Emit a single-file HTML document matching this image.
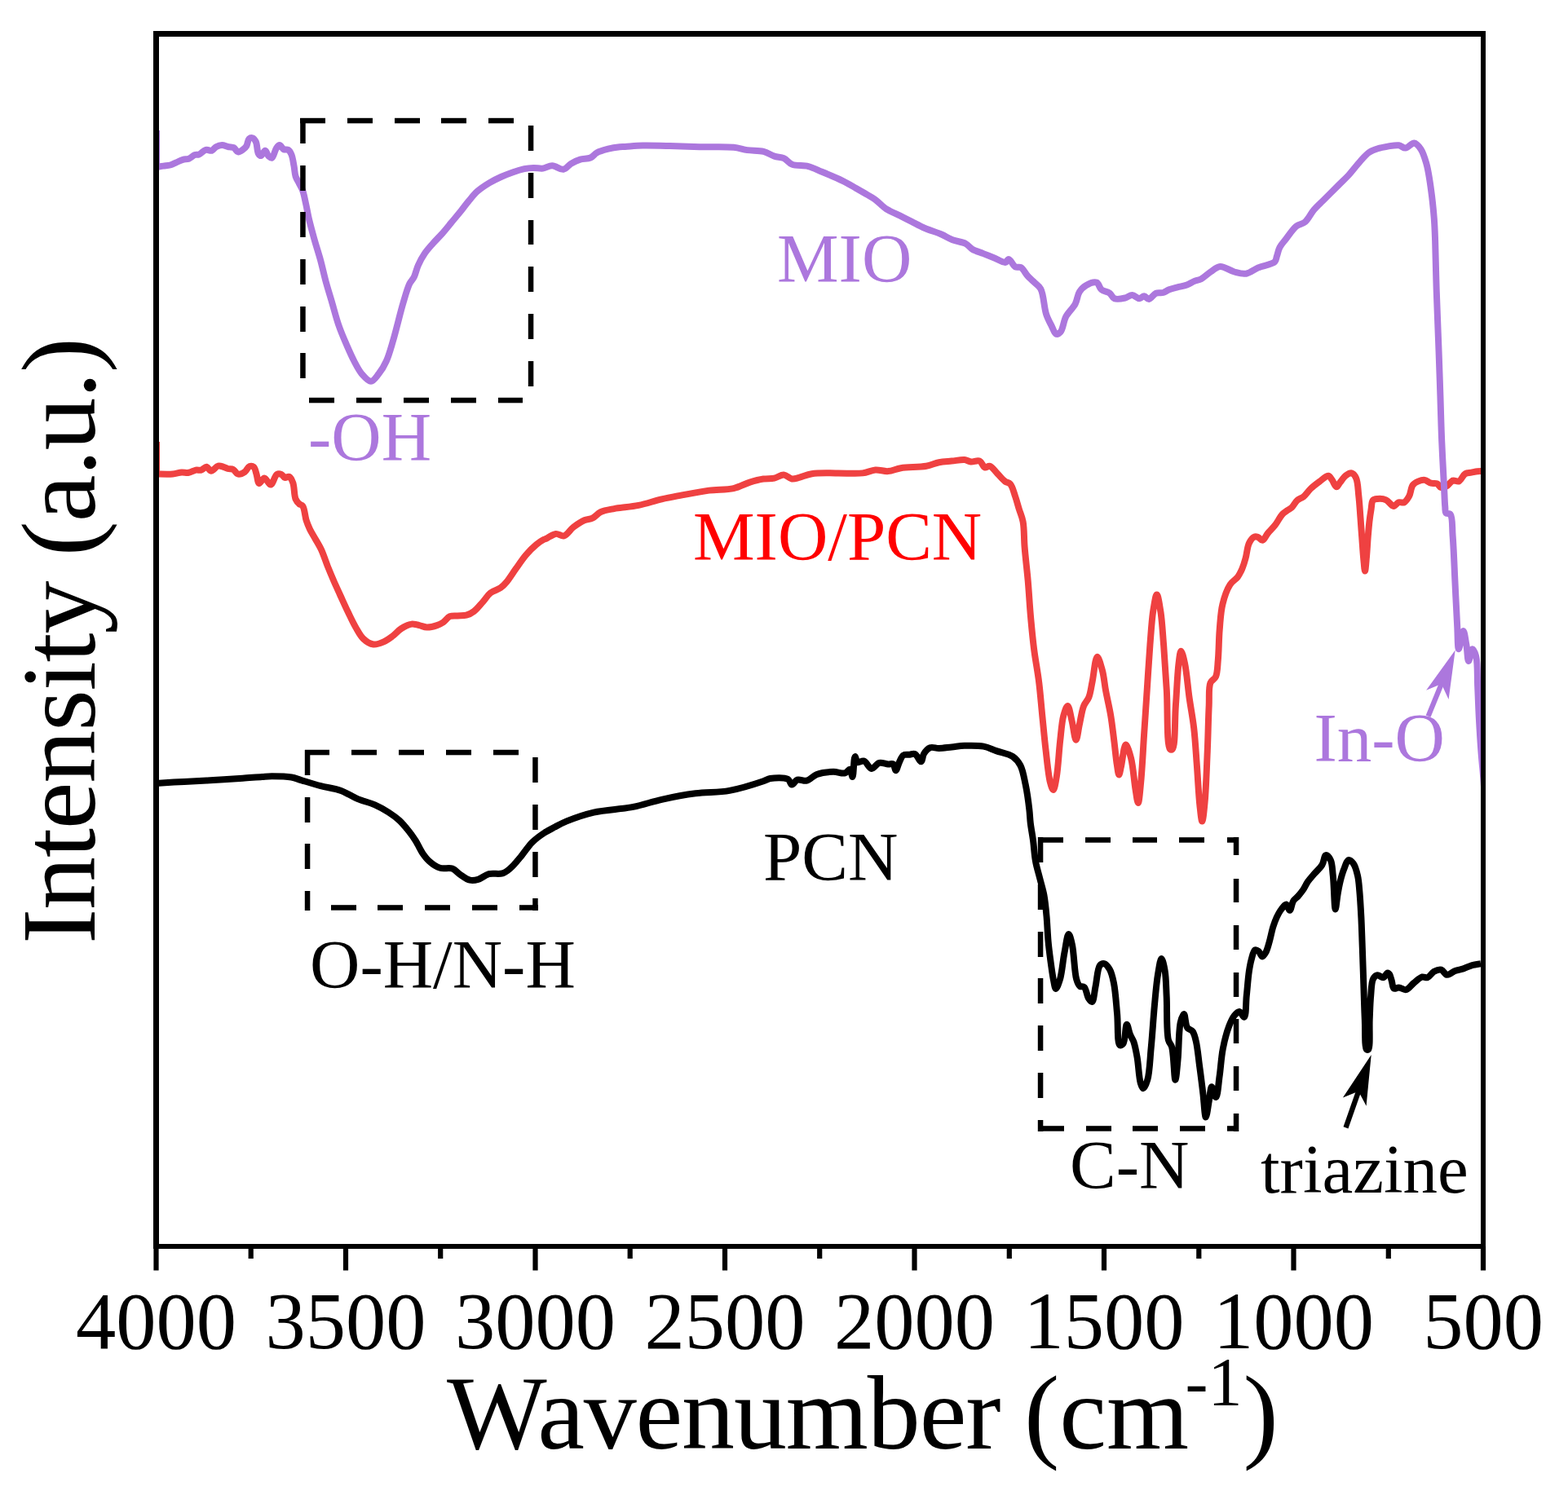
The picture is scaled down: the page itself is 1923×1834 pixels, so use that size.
<!DOCTYPE html>
<html><head><meta charset="utf-8"><title>FTIR spectra</title>
<style>
html,body{margin:0;padding:0;background:#fff;}
body{width:1923px;height:1834px;overflow:hidden;}
svg{display:block;}
text{font-family:"Liberation Serif","Times New Roman",serif;}
.tk{font-size:98.5px;}
.lb{font-size:85px;}
.ax{font-size:130px;}
.sup{font-size:84px;}
</style></head>
<body>
<svg width="1923" height="1834" viewBox="0 0 1923 1834">
<rect width="1923" height="1834" fill="#fff"/>
<defs><clipPath id="pc"><rect x="188" y="45" width="1628" height="1481"/></clipPath></defs>
<g clip-path="url(#pc)" fill="none" stroke-width="8" stroke-linejoin="round" stroke-linecap="butt">
<path stroke="#000" stroke-width="8" d="M191.5,960.9 C197.2,960.6 214.3,959.5 225.9,958.9 C237.7,958.3 249.8,957.8 261.8,957.1 C273.7,956.4 286.9,955.5 297.6,954.7 C306.4,954.1 315,953.3 321.6,952.9 C326.3,952.6 328.8,952.3 333.5,952.3 C340.1,952.3 350.8,952.4 357.4,953.5 C362.1,954.3 364.7,955.7 369.4,957.1 C376,959.1 385.2,962.1 393.3,964.2 C401.5,966.3 410.5,967.1 418.2,969.9 C425.4,972.5 431.3,977 438.2,979.9 C445.2,982.8 453.2,984.5 459.8,987.4 C465.8,990.1 471.4,993.2 476.5,996.5 C481.3,999.6 485.7,1002.7 489.8,1006.5 C494,1010.4 498,1015.4 501.5,1019.8 C504.6,1023.7 507.1,1027.3 509.8,1031.5 C512.7,1036.1 515.1,1042 518.1,1046.4 C520.7,1050.2 523,1053.4 526.4,1056.4 C530.1,1059.7 534.9,1063.3 539.7,1064.8 C544.4,1066.3 550.4,1064 554.7,1065.6 C558.6,1067 561.2,1070.8 564.7,1073.1 C568.4,1075.5 572.4,1078.8 576.3,1079.7 C579.6,1080.4 582.8,1079.9 586.3,1078.9 C590.5,1077.7 594.8,1073.5 599.6,1072.2 C604.7,1070.9 611.6,1072.9 616.3,1071.4 C620.3,1070.1 622.9,1067.7 626.3,1064.8 C630.7,1061 635.2,1055 639.6,1049.8 C644.1,1044.4 648,1037.9 652.9,1033.1 C657.5,1028.6 663,1024.7 667.9,1021.5 C672,1018.8 675.7,1017 680,1014.8 C684.7,1012.3 688.9,1009.9 695,1007.4 C703.8,1003.8 716,999.4 728.2,996.6 C742.7,993.3 761.8,992.8 776.5,989.9 C789.2,987.4 799.3,983.5 811.5,980.8 C824.7,977.9 839.2,975.1 853.1,973.3 C866.9,971.5 880.9,972.4 894.7,969.9 C908.7,967.4 927.8,961.2 936.3,958.3 C940.2,957 941.1,955.6 944.6,955 C950,954.1 961.8,953.5 966.2,955.8 C968.9,957.2 969.3,962.3 971.2,962.5 C973.2,962.7 975.1,957.5 977.9,956.6 C981,955.6 985.6,958.6 989.4,957.7 C993.6,956.7 996.9,951.7 1001.8,949.9 C1007.6,947.8 1015.9,946.9 1022.1,946.8 C1027.2,946.7 1032.6,949.4 1036.2,948.4 C1038.9,947.7 1040.9,943.2 1042.4,943.7 C1044.1,944.2 1044.6,953.1 1045.5,953 C1046.9,952.9 1047,928.3 1048.6,928.1 C1049.5,928 1050,934.2 1051.8,935.1 C1053.6,936 1057.1,932.7 1059.6,933.5 C1062.8,934.5 1065.7,942.7 1068.9,942.9 C1071.9,943.1 1074.9,936.8 1078.3,935.9 C1081.6,935 1086.1,937.2 1089.2,937.4 C1091.5,937.6 1093.9,936.4 1095.4,937.4 C1097.2,938.6 1097.4,945.2 1098.6,945.2 C1100,945.2 1101.5,937.6 1103.2,934.3 C1104.7,931.4 1105.7,927.9 1107.9,926.5 C1109.9,925.2 1113.2,926 1115.7,925.7 C1117.9,925.5 1120,924.2 1122,925 C1124.8,926.1 1128,934.6 1129.8,934.3 C1131.5,934 1131.2,927.8 1132.9,925 C1134.7,922 1137.6,918.4 1140.7,917.2 C1143.8,916 1147.6,918 1151.6,917.9 C1156.3,917.8 1162,916.9 1167.2,916.4 C1172.4,915.9 1177.1,915 1182.8,914.8 C1189.8,914.6 1199.3,914.3 1206.2,915.6 C1212,916.7 1216.3,919.2 1221.8,921.1 C1228.1,923.3 1237,924.6 1242.1,928.1 C1246.3,931 1248.9,934.3 1251.4,939 C1254.6,945.1 1255.9,954 1257.7,962.4 C1259.7,972 1261.4,984.8 1262.4,993.6 C1263.1,999.9 1263.1,1004.2 1263.8,1010 C1264.6,1016.5 1266,1023.4 1267,1030.7 C1268.1,1038.8 1268.5,1048.5 1270,1056.6 C1271.3,1064 1273.5,1070.5 1275.2,1077.4 C1276.9,1084.3 1279,1090.7 1280.4,1098 C1281.9,1106.1 1282.7,1114.9 1283.5,1124 C1284.4,1133.9 1284.7,1145.1 1285.6,1155 C1286.4,1164.1 1287.6,1172.7 1288.7,1181 C1289.8,1188.8 1290.9,1197.6 1292.2,1203.5 C1293,1207.4 1293.7,1212.9 1294.9,1213 C1296.2,1213.1 1298.5,1206.3 1300,1201.4 C1302.4,1193.5 1303.4,1179.3 1305.3,1169.5 C1307,1161.1 1308.7,1146.2 1310.6,1146.1 C1312,1146 1313.6,1153.2 1314.9,1158.8 C1317.2,1168.7 1317.6,1192.8 1320.2,1201.4 C1321.4,1205.5 1322.5,1208.4 1324.4,1209.9 C1325.9,1211 1328.2,1209.6 1329.7,1210.9 C1332.2,1213 1332.9,1221.7 1335,1224.8 C1336.3,1226.8 1338.1,1229.4 1339.3,1229 C1341.5,1228.4 1342.1,1216.7 1343.6,1209.9 C1345.3,1202 1345.8,1188.2 1348.9,1184.4 C1350.4,1182.6 1352.5,1181.9 1354.2,1182.2 C1356.4,1182.6 1358.8,1185.7 1360.6,1188.6 C1363.1,1192.7 1364.5,1198.7 1365.9,1205.6 C1368,1215.7 1368.9,1231.1 1370.1,1243.9 C1371.3,1256.7 1370,1280.4 1373.3,1282.2 C1374.5,1282.8 1376.4,1281.6 1377.6,1280 C1380.2,1276.5 1380.1,1256.8 1381.8,1256.7 C1383.1,1256.6 1384.5,1265.6 1386.1,1269.4 C1387.4,1272.6 1389.1,1274.4 1390.3,1277.9 C1392.1,1282.9 1393.3,1289.8 1394.6,1297 C1396.2,1306.2 1396.8,1322.4 1398.8,1328.9 C1399.7,1332 1400.8,1335.3 1402,1335.3 C1403.5,1335.3 1405.9,1329.5 1407.3,1324.7 C1409.9,1316 1410.3,1300.2 1411.6,1286.4 C1413.2,1270.2 1414.4,1249.5 1415.9,1233.3 C1417.2,1219.5 1418.3,1205.5 1420.1,1195 C1421.4,1187.5 1422.9,1175.9 1424.4,1175.9 C1425.7,1175.9 1427.6,1184.8 1428.6,1190.7 C1430.1,1199.3 1430.1,1210.6 1430.7,1222.6 C1431.5,1238.1 1430.3,1265.8 1432.9,1275.8 C1434,1280 1435.9,1280.3 1437.1,1284.3 C1439.5,1292.6 1440,1324.7 1441.4,1324.7 C1442.5,1324.7 1443.7,1308.9 1444.6,1299.2 C1445.8,1286.4 1445.5,1264.1 1447.7,1254.5 C1448.8,1249.6 1450.7,1243.8 1452,1243.9 C1453.6,1244 1453.7,1257.3 1456.2,1260.9 C1457.9,1263.3 1460.9,1263 1462.6,1265.2 C1464.8,1268.1 1465.7,1272.7 1466.9,1277.9 C1468.7,1285.7 1469.7,1297.4 1471.1,1307.7 C1472.6,1318.7 1474.1,1330.8 1475.4,1341.7 C1476.6,1351.7 1477.4,1370.4 1478.8,1370.5 C1480,1370.5 1481.6,1356.7 1482.8,1350.2 C1483.9,1344.3 1484.5,1333.4 1486,1333.2 C1487.4,1333.1 1489.8,1346.2 1491.3,1346 C1493.3,1345.8 1494.3,1329.6 1495.6,1320.4 C1497.1,1309.9 1497.7,1297.1 1499.8,1286.4 C1501.7,1276.6 1504.5,1266.1 1507.3,1258.8 C1509.3,1253.6 1511.2,1249.1 1513.7,1246 C1515.6,1243.7 1518,1240.8 1520,1241 C1522.1,1241.2 1524.4,1248.3 1525.9,1247.8 C1528.4,1247 1527.8,1230.4 1528.8,1221.3 C1529.8,1211.8 1530.6,1200 1531.8,1191.9 C1532.7,1186.1 1533.4,1181.8 1534.7,1177.2 C1535.9,1173 1537,1166.4 1539.1,1165.4 C1540.3,1164.8 1542.2,1165.9 1543.5,1166.9 C1545.2,1168.2 1546.5,1173.4 1548,1173.5 C1549.4,1173.6 1551.1,1170.6 1552.4,1168.3 C1554.2,1165 1555.4,1159.9 1556.8,1155.1 C1558.4,1149.7 1559.6,1142.6 1561.2,1137.4 C1562.6,1133.1 1563.9,1129.4 1565.6,1125.7 C1567.3,1122.1 1569.3,1118.2 1571.5,1115.4 C1573.3,1113 1575.7,1109.3 1577.4,1109.5 C1579.1,1109.7 1580.4,1116.9 1581.8,1116.8 C1583.4,1116.7 1584.2,1108.2 1586.2,1105.1 C1587.8,1102.6 1590.2,1101.3 1592.1,1099.2 C1594.1,1096.9 1596.1,1094.5 1598,1091.8 C1600.1,1088.7 1601.7,1084.7 1603.9,1081.5 C1606.1,1078.4 1608.5,1075.8 1611.2,1072.7 C1614.3,1069 1619,1065.1 1621.5,1060.9 C1623.7,1057.2 1624,1049.5 1626,1049.1 C1627.6,1048.8 1630.4,1052.2 1631.8,1055 C1634,1059.4 1633.9,1066.6 1634.8,1074.2 C1636.1,1085.3 1636.4,1115.3 1637.7,1115.4 C1638.6,1115.4 1639.6,1102.2 1640.7,1096.2 C1641.6,1091 1642.4,1086.4 1643.6,1081.5 C1644.8,1076.6 1646.2,1071.4 1648,1066.8 C1649.7,1062.6 1651.6,1055.6 1653.9,1055 C1655.7,1054.6 1658.2,1057.2 1659.8,1059.4 C1662.2,1062.7 1663.8,1069 1665,1074.2 C1666.3,1079.7 1666.6,1085 1667.2,1091.8 C1668.1,1101.3 1668.8,1114.2 1669.4,1125.7 C1670,1137.7 1670.3,1149.6 1670.8,1162.4 C1671.3,1176.4 1671.8,1191.9 1672.3,1206.6 C1672.8,1221.3 1673.1,1236.7 1673.8,1250.7 C1674.4,1263.5 1673.4,1285.1 1676,1287.5 C1676.6,1288.1 1677.6,1288.1 1678.2,1287.5 C1680.7,1285.1 1679.2,1262.3 1679.7,1250.7 C1680.2,1240.3 1680.3,1230.2 1681.2,1221.3 C1681.9,1213.8 1681.8,1204.8 1684.1,1200.7 C1685.4,1198.3 1687.2,1196.6 1689.2,1196.3 C1691.3,1195.9 1694.5,1199.7 1696.6,1199.2 C1698.7,1198.7 1700.3,1193.5 1701.7,1193.4 C1702.6,1193.3 1703.4,1194.2 1704.1,1195.2 C1705.3,1196.8 1705.9,1200.5 1706.8,1203.3 C1707.7,1206.3 1707.7,1211.6 1709.5,1212.7 C1710.9,1213.6 1713.4,1211.3 1715.6,1211.4 C1718.3,1211.5 1721.5,1214.7 1724.3,1214.1 C1727.6,1213.4 1730.5,1208.6 1733.8,1206 C1737.1,1203.4 1740.7,1199.4 1743.9,1198.5 C1746.3,1197.9 1748.5,1199.9 1750.7,1199.2 C1753.5,1198.3 1755.8,1193.4 1758.8,1191.8 C1761.5,1190.4 1765,1189 1767.6,1189.7 C1770.2,1190.4 1771.8,1195.4 1774.4,1195.8 C1777.3,1196.2 1781.1,1192.3 1784.5,1191.1 C1787.8,1189.9 1791.3,1189.5 1794.7,1188.4 C1798.1,1187.3 1801.3,1185.3 1804.8,1184.3 C1808.4,1183.3 1814.1,1182.6 1816,1182.3"/>
<path stroke="#ef4141" d="M192,542 L192,581.5 C195.3,581.5 206.2,582 211.8,581.5 C216,581.1 219.3,579.8 222.8,579.5 C225.9,579.3 228.6,580.3 231.5,579.8 C234.4,579.3 237.5,577.1 240.2,576.6 C242.5,576.2 244.7,577.2 246.8,576.6 C249.1,576 251.3,572.6 253.3,572.8 C255.3,573 256.7,577.6 258.8,577.7 C261.3,577.9 264.7,572.3 267.5,571.7 C269.7,571.2 272,572.2 274.1,572.8 C276,573.3 277.6,574.5 279.5,575 C281.6,575.6 284.1,575 286.1,576 C288.2,577.1 289.4,580.9 291.6,581.5 C294,582.1 297.9,580.4 300.3,578.8 C302.6,577.3 303.7,573 305.8,572.2 C307.4,571.5 309.8,571.7 311.2,572.8 C313,574.2 313.5,578.4 314.5,581.5 C315.7,585 316,592.5 317.8,593 C319.4,593.4 322.1,586.4 324.3,586.4 C326.8,586.4 329.6,594.9 332,594.6 C334.7,594.3 336.8,583.6 339.6,582 C341.3,581 343.5,581.4 345.1,582 C346.8,582.6 347.7,585.4 349.4,585.9 C351,586.3 353.4,584.1 354.9,584.8 C356.8,585.7 358.1,589.1 359.3,592.4 C361.1,597.3 360.6,607.6 362.5,612.1 C363.7,614.9 365.3,616.6 366.9,618.1 C368.3,619.3 370.1,619.1 371.3,620.8 C373.6,623.9 374,633.2 375.6,638.3 C376.9,642.4 378.3,645.6 380,649.2 C381.8,652.9 384,656.4 386.2,660.3 C388.7,664.7 391.6,669.1 394,674.3 C396.8,680.4 399.2,688 401.8,694.6 C404.4,701 407,707.2 409.6,713.3 C412.2,719.2 414.7,724.5 417.4,730.5 C420.4,737 423.6,744.2 426.8,750.8 C429.9,757.2 432.9,763.8 436.2,769.5 C439.2,774.6 441.7,779.9 445.5,783.5 C449,786.8 453.7,789.9 458,790.5 C462.1,791 466.6,789.1 470.5,787.4 C474.4,785.7 477.9,783 481.4,780.4 C485.1,777.6 488.3,773.5 492.3,771 C496.2,768.6 500.9,766.1 504.8,765.6 C508.1,765.2 511.1,766.5 514.2,767.1 C517.3,767.8 520.2,769.4 523.5,769.5 C527.3,769.6 532.4,768.3 536,767.1 C539,766.1 541.3,764.9 543.8,763.2 C546.5,761.3 548.6,757.5 551.6,756.2 C554.4,755 557.7,755.6 561,755.4 C564.5,755.1 568.5,755.6 571.9,754.7 C575.2,753.8 578.2,752.3 581.2,750 C585,747.2 588.7,742.2 592.2,738.3 C595.5,734.6 597.8,730.3 601.5,727.4 C605.1,724.6 610.5,723.6 614,721.1 C617.1,718.8 619.1,716.5 621.8,713.3 C625.3,709.1 628.9,703 632.7,697.7 C636.7,692.1 640.8,685.7 645.2,680.6 C649.2,675.9 653.7,671.4 657.7,668.1 C660.9,665.5 664.7,663 667,661.8 C668.2,661.2 668.7,661.3 670,660.7 C672.6,659.6 677.8,655.3 681.6,654.9 C685,654.5 688.4,658.2 691.6,657.4 C695.6,656.4 699.1,649.8 703.3,646.6 C707.5,643.4 712.3,640 716.6,638.2 C720,636.7 723.4,637.2 726.6,635.7 C730.1,634 732.6,630.1 736.6,628.2 C741.3,626 746.8,625.3 753.2,624.1 C761.7,622.5 773.4,621.9 783.2,619.9 C792.8,618 802.3,614.5 811.5,612.4 C820,610.4 827.5,609.1 836.4,607.4 C846.7,605.5 858.9,603 869.7,601.6 C879.9,600.3 890.8,601.1 899.7,599.1 C907.1,597.4 913.2,593.6 919.6,591.6 C925.4,589.8 931,588.3 936.3,587.5 C941,586.8 945.4,587.5 949.6,586.6 C953.7,585.8 957.5,582.3 961.2,582.5 C964.7,582.7 967.9,587 971.2,587.5 C974.2,587.9 976.7,586.7 980,585.9 C984.5,584.8 989.4,582.2 995.6,581.2 C1004.1,579.8 1016.4,580.5 1026.8,580.4 C1037.2,580.3 1049.4,581.5 1058,580.4 C1064.1,579.6 1068.4,576.9 1073.6,576.5 C1078.8,576.1 1084,578.5 1089.2,578.1 C1094.4,577.7 1098.7,575.2 1104.8,574.2 C1113.4,572.8 1127.5,573.4 1136,571.8 C1142.2,570.7 1146.4,568.2 1151.6,567.2 C1156.8,566.2 1162,566.1 1167.2,565.6 C1172.4,565.1 1178.5,563.6 1182.8,564 C1185.9,564.3 1187.7,566.1 1190.6,566.4 C1193.9,566.8 1198.6,564.3 1201.5,565.6 C1204.3,566.8 1205.4,572.6 1207.8,573.4 C1209.7,574 1211.9,571.2 1214,571.8 C1217,572.6 1220.3,578.1 1223.4,581.2 C1226.5,584.3 1229.7,588.5 1232.7,590.6 C1234.9,592.2 1237.2,591.8 1239,593.7 C1241.8,596.7 1243.4,604.1 1245.2,609.3 C1247,614.5 1248.3,619.7 1249.9,624.9 C1251.5,630 1253.5,634 1254.6,640 C1256.2,648.4 1255.7,660 1256.6,671.1 C1257.6,683.9 1259.5,698.7 1260.7,712.5 C1261.9,726.3 1262.6,740.2 1263.8,754 C1265,767.8 1266.3,781.6 1268,795.4 C1269.7,809.2 1272.5,823.1 1274.2,836.9 C1275.9,850.7 1276.9,864.5 1278.3,878.3 C1279.7,892.1 1280.9,906.1 1282.5,919.8 C1284.1,933.3 1285.7,951.5 1288,960 C1289.1,964.2 1290.6,969.1 1291.8,969 C1293.3,968.9 1294.6,959.7 1295.8,953 C1297.7,942.1 1298.6,922.7 1300.1,909.4 C1301.4,898.1 1302.1,886.2 1304.2,878.3 C1305.6,873.1 1307.8,865.8 1309.4,865.9 C1311.3,866 1313,878 1314.6,884.6 C1316.4,891.9 1318,907.8 1319.6,907.8 C1321.1,907.8 1322.4,895.3 1323.9,888.7 C1325.5,881.4 1326.7,871.9 1329.1,865.9 C1330.8,861.6 1333.7,859.6 1335.3,855.5 C1337.4,850.3 1338,843.9 1339.5,836.9 C1341.4,827.9 1343.2,806 1345.7,805.8 C1347.5,805.7 1350.2,816.2 1351.9,822.4 C1353.9,829.8 1354.5,838.6 1356.1,847.3 C1357.9,857.1 1360.6,867.9 1362.3,878.3 C1364,888.6 1365.1,899.2 1366.4,909.4 C1367.6,919.1 1368.6,930.4 1369.8,938 C1370.6,943 1371.4,950.5 1372.3,950.5 C1373.1,950.5 1374,944.3 1375,940 C1376.6,933.2 1378.3,913.7 1380.6,913.5 C1382.5,913.3 1385.3,923.4 1387.1,930.2 C1389.7,940.1 1390.8,957.9 1392.5,968 C1393.6,974.8 1394.8,985 1395.8,985 C1397.1,985 1398.3,968.7 1399.3,958.1 C1400.8,942.9 1401.8,921 1403,902.5 C1404.2,883.9 1405.5,865.4 1406.7,846.8 C1407.9,828.3 1409.1,808.3 1410.4,791.2 C1411.6,776.5 1412.4,761.7 1414.1,750.4 C1415.4,742.2 1417.2,729.4 1418.7,729.4 C1420.3,729.4 1422.1,742.2 1423.4,750.4 C1425.2,761.7 1425.9,776.5 1427.1,791.2 C1428.4,808.3 1429.6,827.1 1430.8,846.8 C1432.2,869.3 1430.6,914.9 1434.9,919 C1435.8,919.8 1437,919.8 1437.9,919 C1441.6,915.6 1440.6,883.1 1441.9,865.4 C1443.2,848 1444,825.5 1445.6,813.5 C1446.4,807 1447.2,798.8 1448.4,798.7 C1449.6,798.6 1451.6,807.2 1453,813.5 C1455.3,824 1456.7,842.4 1458.6,856.1 C1460.4,868.9 1462.7,880.1 1464.2,893.2 C1465.9,907.8 1466.7,923.9 1467.9,939.5 C1469.1,955.5 1470,975.5 1471.4,988 C1472.3,996 1473.3,1007.5 1474.3,1007.5 C1475.4,1007.5 1476.7,993.8 1477.6,984 C1479.1,968.1 1479.9,941.3 1480.8,921 C1481.6,901.9 1481.9,880.7 1482.7,865.4 C1483.2,854.5 1482,843.7 1484.5,837.6 C1486,834 1489.5,833.6 1491,830.2 C1493.2,825.3 1493.1,817.6 1493.8,809.8 C1494.8,799.3 1494.7,784.5 1495.7,772.7 C1496.6,761.8 1497,750.9 1499.4,741.2 C1501.5,732.5 1504.8,723 1508.6,717.1 C1511.3,712.9 1515.4,711.2 1517.9,707.8 C1520.2,704.7 1521.7,701.4 1523.3,697.8 C1525,693.8 1526.3,689.5 1527.6,684.7 C1529.2,679.1 1529.6,670.7 1532,666.1 C1533.7,662.7 1536.4,659.3 1538.6,658.5 C1540,657.9 1541.4,658.5 1542.9,659 C1544.7,659.7 1546.6,663.1 1548.4,662.8 C1550.7,662.4 1552.5,657 1554.9,654.1 C1557.5,650.9 1560.9,647.9 1563.7,644.3 C1566.8,640.3 1569.6,634.3 1572.4,631.2 C1574.3,629.1 1576,628.2 1577.9,626.8 C1579.9,625.3 1582.4,624.3 1584.4,622.4 C1586.8,620.1 1588.5,615.9 1591,613.7 C1593.3,611.7 1596.1,611.3 1598.6,609.3 C1601.6,606.8 1604.2,602.6 1607.4,599.5 C1610.7,596.3 1614.6,593.4 1618.3,590.7 C1621.9,588.1 1626.5,583.3 1629.2,583.7 C1631.1,584 1632.1,586.7 1633.6,588.6 C1635.4,591 1637.2,597.2 1639,597.3 C1640.5,597.4 1641.7,593.8 1643.4,591.8 C1645.6,589.2 1648.3,585 1651,583.1 C1653.1,581.6 1655.6,580 1657.6,580.4 C1659.7,580.9 1661.7,583.5 1663.1,586.4 C1665.4,591.2 1665.4,600.5 1666.3,608.2 C1667.3,616.8 1667.8,626.6 1668.5,635.5 C1669.1,643.9 1669.7,651.8 1670.3,660 C1670.9,668.3 1671.5,677.7 1672.2,685 C1672.8,690.8 1673.4,700.5 1674,700.5 C1674.6,700.5 1675.3,690.8 1675.8,685 C1676.5,677.7 1677,667.9 1677.6,660 C1678.2,653 1678.7,646.2 1679.4,640 C1680,634.5 1680.8,629.3 1681.6,624.6 C1682.3,620.6 1682,615.7 1683.8,613.7 C1685.1,612.3 1687.1,612.2 1689.3,612 C1692.2,611.7 1696.7,611.9 1699.9,613.3 C1703.3,614.8 1706.3,620.8 1709.1,620.9 C1711.3,620.9 1713,617 1715.2,616.3 C1717.3,615.6 1720.1,617.3 1722.1,616.3 C1724.5,615.1 1726.5,611.8 1728.2,608.7 C1730.2,604.9 1730.3,598.1 1732.7,595 C1734.5,592.6 1737.1,591.4 1739.6,590.4 C1742,589.4 1744.8,588.6 1747.3,588.9 C1749.9,589.3 1752.3,592 1754.9,592.7 C1757.4,593.4 1760.4,592.4 1762.5,593.4 C1764.4,594.3 1765.2,597.5 1767.1,598 C1769,598.6 1771.8,597.6 1774,596.5 C1776.7,595.1 1778.9,590.5 1781.6,589.6 C1784,588.8 1786.9,591.3 1789.2,590.4 C1792.1,589.2 1794,582.9 1796.9,581.2 C1799.2,579.8 1802,580.2 1804.5,579.7 C1807,579.2 1809.7,578.5 1812.1,578.2 C1814.2,578 1817,578 1818,578"/>
<path stroke="#ac77dd" d="M192,160 L192,205 C193.4,204.8 197.6,204 200.4,203.6 C203.2,203.2 206.1,203.2 208.7,202.5 C211.3,201.8 213.5,200.5 216,199.4 C218.7,198.2 221.6,196.6 224.3,195.8 C226.8,195.1 229.3,195.6 231.6,194.7 C234.1,193.7 236.6,190.8 238.9,190 C240.7,189.4 242.2,190.2 244,189.5 C246.6,188.6 249.6,184.5 252.4,183.8 C254.8,183.2 257.6,185.4 259.7,184.8 C261.7,184.2 262.9,181.3 264.9,180.2 C267,179 269.7,178 272.2,178 C274.9,178 277.9,179.7 280.5,180.2 C282.7,180.7 284.9,180.3 286.7,181.2 C288.7,182.2 290,186.1 291.9,186.4 C293.8,186.7 296.4,184.6 298.2,183.3 C299.8,182.1 301.2,180.9 302.3,179.1 C303.7,176.8 303.8,171.8 305.4,170.3 C306.5,169.3 308.3,168.8 309.6,169.2 C311.2,169.7 312.7,171.7 313.8,173.9 C315.5,177.3 315.2,185.7 316.9,188.5 C317.8,189.9 318.9,191.2 320,191.1 C321.6,191 323.6,184.7 325.2,184.8 C326.8,184.9 327.8,190.1 329.4,191.6 C330.6,192.7 332.3,194.1 333.5,193.7 C335.6,193 336.8,184.9 338.7,182.2 C340,180.3 341.4,178.1 342.9,178.1 C344.5,178.1 346.2,182.4 348.1,183.3 C349.7,184.1 351.8,183 353.3,183.8 C355,184.8 356.3,187 357.4,189.5 C359,193.1 359.7,199.4 360.6,204.1 C361.4,208.4 361.4,212.9 362.6,216.6 C363.6,219.7 365.4,222.1 366.8,224.9 C368.2,227.7 369.8,229.9 371,233.2 C372.7,237.7 373.8,244.2 375.1,250 C376.5,256.1 377.4,262.3 379,269 C380.8,276.5 383,284.6 385.3,292.8 C387.7,301.5 390.8,310.8 393.2,319.6 C395.5,328.2 397.2,336.4 399.5,345 C401.9,353.8 404.8,362.9 407.4,371.8 C410,380.8 412.3,390.1 415.3,398.7 C418.1,406.9 421.5,414.8 424.8,422.4 C427.9,429.5 431,436.7 434.3,443 C437.3,448.7 440.1,454.5 443.8,458.8 C447.1,462.6 451.4,467.9 454.9,467.8 C458.2,467.7 461.4,462.5 464.3,458.8 C467.8,454.5 471.1,449 473.8,443 C477,436 479.3,427.2 481.7,419.2 C484.1,411.3 486,403.4 488.1,395.5 C490.2,387.6 492,379.7 494.4,371.8 C496.8,363.9 499.5,353.8 502.3,348.1 C504,344.5 506.1,343.2 507.7,340 C509.7,336 510.7,330.3 512.8,325.6 C515,320.7 517.7,315.5 520.8,311 C523.8,306.5 527.5,302.6 531,298.6 C534.5,294.6 538.3,291 541.9,287 C545.6,282.8 549.2,278.3 552.8,273.9 C556.4,269.5 560.1,265.3 563.7,260.8 C567.4,256.3 570.9,251.3 574.6,246.9 C578.2,242.6 581.4,238.3 585.6,234.6 C589.9,230.8 595.2,227.4 600.1,224.4 C604.8,221.6 609.6,219.2 614.5,217 C619.3,214.8 624.3,212.9 629.2,211.2 C633.8,209.6 638.6,208.1 643,207.2 C646.9,206.4 650.6,206.1 654.4,206 C658.2,205.9 662,207 665.8,206.6 C669.7,206.1 673.3,203.1 677.3,203.2 C681.7,203.3 687,208.4 691,207.8 C694.5,207.2 696.9,202.9 700.2,200.9 C703.7,198.8 707.6,196.9 711.6,195.7 C715.6,194.5 720.6,195.1 724.2,193.5 C727.4,192.1 729,188.9 732.2,187.2 C736,185.1 741.3,183.8 745.9,182.6 C750.5,181.5 756.2,180.7 760,180.3 C762.6,180 763.8,180.2 766.6,180 C771.7,179.7 780.3,178.8 788.3,178.6 C798.2,178.4 810.2,178.8 821.6,179.1 C833.5,179.4 845.6,180 858.2,180.3 C871.6,180.6 889.1,179.7 899.8,180.8 C906.6,181.5 910.6,183.3 916.4,184.1 C922.7,185 930.5,184.3 936.4,185.8 C941.4,187.1 945.3,190.2 949.7,191.6 C953.6,192.9 957.7,192.5 961.3,194.1 C965,195.8 967.1,199.9 971.3,201.6 C976.6,203.7 985,202.5 991.3,204.1 C997.2,205.6 1001.9,208.3 1008,210.8 C1015.5,213.9 1025.5,218 1032.9,221.6 C1039.1,224.6 1044.6,227.9 1049.5,230.7 C1053.4,232.9 1056.3,234.6 1060,236.8 C1064.2,239.3 1069.1,241.8 1073.5,244.9 C1078.1,248.2 1082.3,253.3 1087,256.4 C1091.4,259.3 1095.8,260.7 1100.6,263.1 C1106.1,265.8 1112.4,269 1118.1,271.9 C1123.6,274.7 1128.6,277.5 1134.4,280 C1140.7,282.7 1148.6,284.9 1154.6,287.5 C1159.6,289.7 1163.4,292.3 1168.2,294.2 C1173.3,296.2 1180.1,296.7 1184.4,299 C1187.8,300.8 1189.3,303.8 1192.5,305.7 C1196.3,307.9 1201.5,309.3 1206,311.1 C1210.5,312.9 1215,314.7 1219.5,316.5 C1224,318.3 1230,322.5 1233.1,321.9 C1235,321.5 1235.6,317.8 1237.1,317.9 C1239.4,318 1242.3,325.9 1245.2,327.4 C1247.4,328.5 1249.9,326.9 1252,328 C1254.9,329.6 1257.4,335.2 1260.1,338.2 C1262.4,340.7 1264.5,342.5 1266.9,344.9 C1269.8,347.8 1273.8,349.8 1276.3,354.4 C1280.1,361.4 1280.3,377.1 1283.1,385.5 C1285.1,391.5 1287.7,396 1289.9,400.4 C1291.7,403.9 1293.1,409.2 1295.3,409.8 C1296.9,410.3 1299.1,408.9 1300.7,407.1 C1303.6,403.8 1304.3,394 1307.4,388.2 C1310.4,382.6 1315.9,378.1 1318.7,372.8 C1321.2,368.1 1321.3,362.1 1323.8,358.2 C1325.9,354.8 1328.5,352.1 1331.8,350.2 C1335.4,348.1 1341.7,345.4 1344.9,346.6 C1347.7,347.6 1348.2,353.1 1350.8,355.3 C1353.5,357.5 1358.2,357.7 1361,359.7 C1363.4,361.5 1364.1,365.2 1366.8,366.3 C1370.1,367.7 1376,366.4 1379.9,365.5 C1383.2,364.7 1385.7,361.8 1388.6,361.9 C1391.5,362 1394.8,366.3 1397.4,366.3 C1399.5,366.3 1401.3,363.2 1403.2,363.3 C1405.2,363.4 1406.9,367.1 1409,367 C1411.7,366.8 1414.6,361 1417.7,359.7 C1420.5,358.6 1423.8,359.8 1426.5,359 C1429.1,358.3 1431.1,356.4 1433.8,355.3 C1436.9,354.1 1440.5,353.3 1444,352.4 C1447.7,351.4 1452.1,350.8 1455.6,349.5 C1458.8,348.3 1461.3,346.3 1464.3,345.1 C1467.2,343.9 1470.1,343.8 1473.1,342.2 C1476.9,340.2 1480.7,336.1 1484.7,333.5 C1488.5,331 1492,327.2 1496.4,326.9 C1501.5,326.5 1508.2,332 1513.8,333.5 C1518.8,334.8 1523.6,336.5 1528.4,335.7 C1533.4,334.9 1537.7,330.7 1543,328.4 C1549.2,325.8 1560,324.5 1563.4,321.1 C1565.4,319.1 1565.1,316.6 1566,314 C1567.1,310.8 1567.7,306.7 1569.5,303.3 C1571.5,299.5 1574.6,296.4 1577.6,292.5 C1581.2,287.9 1585.4,281.1 1589.7,277.6 C1593.1,274.8 1597.3,275 1600.6,272.2 C1604.7,268.8 1607.6,261.8 1611.4,257.4 C1614.9,253.3 1618.1,250.6 1622.2,246.5 C1627.6,241.1 1635.3,233.4 1641.1,227.6 C1646,222.7 1650.2,218.9 1654.6,214.1 C1659.2,209 1663.8,202.7 1668.2,197.9 C1671.9,193.8 1675.1,189.6 1679,187 C1682.4,184.7 1686,183.5 1689.8,182.3 C1693.7,181 1697.8,180.3 1702,179.6 C1706.4,178.9 1711.6,177.7 1715.5,178.3 C1718.6,178.8 1720.8,181.8 1723.6,181.6 C1727,181.4 1731.2,175.1 1734.4,175.5 C1737.4,175.9 1740.2,179.6 1742.5,183 C1745.5,187.4 1747.5,194.5 1749.3,200.6 C1751.2,207 1752.2,214 1753.3,220.8 C1754.4,227.5 1755.2,233.8 1756.1,241.1 C1757.1,249.5 1758.1,259.2 1758.8,268.2 C1759.5,277.2 1759.7,284.4 1760.1,295.2 C1760.7,311.3 1761,334.4 1761.7,355.6 C1762.5,379.1 1763.7,406.8 1764.5,429.8 C1765.2,449.7 1765.8,466.9 1766.4,485.5 C1767,504 1767.4,522.6 1768.2,541.1 C1769,559.7 1770.2,581.9 1771,596.8 C1771.5,606.8 1771.7,616.1 1772.3,622 C1772.6,625.2 1772,627.8 1773.3,629.3 C1774.4,630.6 1777.4,629.4 1778.8,631.1 C1781.7,634.7 1780.8,646.8 1781.6,657.1 C1782.8,672.1 1783.5,694.2 1784.4,712.7 C1785.3,731.3 1786.3,753 1787.2,768.4 C1787.8,779.3 1787.6,796.1 1789,796.2 C1790.2,796.3 1793,773.9 1794.6,773.9 C1796,773.9 1797.2,784.7 1798.3,790.6 C1799.5,797 1799.7,810.9 1801.1,811 C1802.3,811.1 1804,796.3 1805.7,796.2 C1807.1,796.1 1809.2,801.2 1810.3,805.5 C1812.4,813.6 1811.6,830.1 1812.2,842.5 C1812.8,855 1813.1,867.3 1813.8,880 C1814.5,893.1 1815.3,907.1 1816.3,920 C1817.2,932.1 1818.4,943.3 1819.3,955 C1820.2,966.7 1821.1,984.2 1821.5,990"/>
</g>
<g fill="#000">
<rect x="368" y="144.8" width="31" height="6.5"/><rect x="426" y="144.8" width="31" height="6.5"/><rect x="484" y="144.8" width="31" height="6.5"/><rect x="541" y="144.8" width="31" height="6.5"/><rect x="599" y="144.8" width="31" height="6.5"/><rect x="611" y="487.8" width="30" height="6.5"/><rect x="553" y="487.8" width="31" height="6.5"/><rect x="495" y="487.8" width="31" height="6.5"/><rect x="437" y="487.8" width="31" height="6.5"/><rect x="379" y="487.8" width="31" height="6.5"/><rect x="647.8" y="154" width="6.5" height="31"/><rect x="647.8" y="212" width="6.5" height="31"/><rect x="647.8" y="270" width="6.5" height="30"/><rect x="647.8" y="327" width="6.5" height="31"/><rect x="647.8" y="385" width="6.5" height="31"/><rect x="647.8" y="443" width="6.5" height="31"/><rect x="368.2" y="433" width="6.5" height="31"/><rect x="368.2" y="376" width="6.5" height="31"/><rect x="368.2" y="318" width="6.5" height="31"/><rect x="368.2" y="260" width="6.5" height="31"/><rect x="368.2" y="203" width="6.5" height="31"/><rect x="368.2" y="145" width="6.5" height="31"/>
<rect x="374" y="919.8" width="30" height="6.5"/><rect x="431" y="919.8" width="31" height="6.5"/><rect x="489" y="919.8" width="31" height="6.5"/><rect x="547" y="919.8" width="31" height="6.5"/><rect x="605" y="919.8" width="31" height="6.5"/><rect x="637" y="1110.2" width="23" height="6.5"/><rect x="579" y="1110.2" width="31" height="6.5"/><rect x="521" y="1110.2" width="31" height="6.5"/><rect x="463" y="1110.2" width="31" height="6.5"/><rect x="406" y="1110.2" width="31" height="6.5"/><rect x="653.2" y="929" width="6.5" height="31"/><rect x="653.2" y="987" width="6.5" height="31"/><rect x="653.2" y="1045" width="6.5" height="31"/><rect x="653.2" y="1102" width="6.5" height="15"/><rect x="373.8" y="1093" width="6.5" height="24"/><rect x="373.8" y="1035" width="6.5" height="31"/><rect x="373.8" y="978" width="6.5" height="31"/><rect x="373.8" y="920" width="6.5" height="31"/>
<rect x="1273" y="1027.2" width="31" height="6.5"/><rect x="1331" y="1027.2" width="31" height="6.5"/><rect x="1389" y="1027.2" width="30" height="6.5"/><rect x="1446" y="1027.2" width="31" height="6.5"/><rect x="1505" y="1027.2" width="14" height="6.5"/><rect x="1505" y="1381.2" width="14" height="6.5"/><rect x="1447" y="1381.2" width="31" height="6.5"/><rect x="1389" y="1381.2" width="31" height="6.5"/><rect x="1332" y="1381.2" width="31" height="6.5"/><rect x="1273" y="1381.2" width="32" height="6.5"/><rect x="1512.8" y="1027" width="6.5" height="22"/><rect x="1512.8" y="1078" width="6.5" height="29"/><rect x="1512.8" y="1135" width="6.5" height="30"/><rect x="1512.8" y="1193" width="6.5" height="30"/><rect x="1512.8" y="1250" width="6.5" height="30"/><rect x="1512.8" y="1308" width="6.5" height="30"/><rect x="1512.8" y="1366" width="6.5" height="22"/><rect x="1272.8" y="1374" width="6.5" height="14"/><rect x="1272.8" y="1316" width="6.5" height="31"/><rect x="1272.8" y="1258" width="6.5" height="31"/><rect x="1272.8" y="1200" width="6.5" height="31"/><rect x="1272.8" y="1143" width="6.5" height="31"/><rect x="1272.8" y="1085" width="6.5" height="31"/><rect x="1272.8" y="1027" width="6.5" height="31"/>
</g>
<line x1="1751.6" y1="878.6" x2="1770.5" y2="832.4" stroke="#ac77dd" stroke-width="6.3"/><path d="M1784.7,797.5 L1749.1,846.8 L1767.8,838.9 L1776.6,858 Z" fill="#ac77dd"/>
<line x1="1650.5" y1="1383.4" x2="1668.6" y2="1331.6" stroke="#000" stroke-width="6.3"/><path d="M1681.7,1294.1 L1646.9,1346.5 L1666.1,1338.8 L1675.6,1356.8 Z" fill="#000"/>
<g fill="#000"><rect x="188" y="38" width="7" height="1494"/><rect x="188" y="38" width="1634" height="7"/><rect x="1816" y="38" width="6" height="1494"/><rect x="188" y="1526" width="1634" height="6"/></g>
<rect x="188.4" y="1529" width="6.2" height="29.5" fill="#000"/>
<rect x="304.6" y="1529" width="6.2" height="15" fill="#000"/>
<rect x="420.9" y="1529" width="6.2" height="29.5" fill="#000"/>
<rect x="537.1" y="1529" width="6.2" height="15" fill="#000"/>
<rect x="653.4" y="1529" width="6.2" height="29.5" fill="#000"/>
<rect x="769.6" y="1529" width="6.2" height="15" fill="#000"/>
<rect x="885.9" y="1529" width="6.2" height="29.5" fill="#000"/>
<rect x="1002.1" y="1529" width="6.2" height="15" fill="#000"/>
<rect x="1118.4" y="1529" width="6.2" height="29.5" fill="#000"/>
<rect x="1234.7" y="1529" width="6.2" height="15" fill="#000"/>
<rect x="1350.9" y="1529" width="6.2" height="29.5" fill="#000"/>
<rect x="1467.2" y="1529" width="6.2" height="15" fill="#000"/>
<rect x="1583.4" y="1529" width="6.2" height="29.5" fill="#000"/>
<rect x="1699.7" y="1529" width="6.2" height="15" fill="#000"/>
<rect x="1815.9" y="1529" width="6.2" height="29.5" fill="#000"/>
<text x="191.5" y="1653.5" text-anchor="middle" class="tk">4000</text>
<text x="424" y="1653.5" text-anchor="middle" class="tk">3500</text>
<text x="656.5" y="1653.5" text-anchor="middle" class="tk">3000</text>
<text x="889" y="1653.5" text-anchor="middle" class="tk">2500</text>
<text x="1121.5" y="1653.5" text-anchor="middle" class="tk">2000</text>
<text x="1354" y="1653.5" text-anchor="middle" class="tk">1500</text>
<text x="1586.5" y="1653.5" text-anchor="middle" class="tk">1000</text>
<text x="1819" y="1653.5" text-anchor="middle" class="tk">500</text>
<text x="953" y="346" class="lb" fill="#ac77dd">MIO</text>
<text x="850" y="686.5" class="lb" fill="#ff0000">MIO/PCN</text>
<text x="936" y="1080" class="lb" fill="#000">PCN</text>
<text x="378" y="565" class="lb" fill="#ac77dd">-OH</text>
<text x="380" y="1212" class="lb" fill="#000">O-H/N-H</text>
<text x="1312" y="1458" class="lb" fill="#000">C-N</text>
<text x="1546" y="1463" class="lb" fill="#000">triazine</text>
<text x="1611.5" y="934" class="lb" fill="#ac77dd">In-O</text>
<text x="548" y="1777" class="ax" textLength="679.5" lengthAdjust="spacing">Wavenumber</text>
<text x="1256" y="1777" class="ax">(cm</text>
<text x="1453.5" y="1723.6" class="sup">-1</text>
<text x="1524.5" y="1777" class="ax">)</text>
<text transform="translate(116,1158) rotate(-90)" x="0" y="0" class="ax" textLength="744" lengthAdjust="spacing">Intensity (a.u.)</text>
</svg>
</body></html>
